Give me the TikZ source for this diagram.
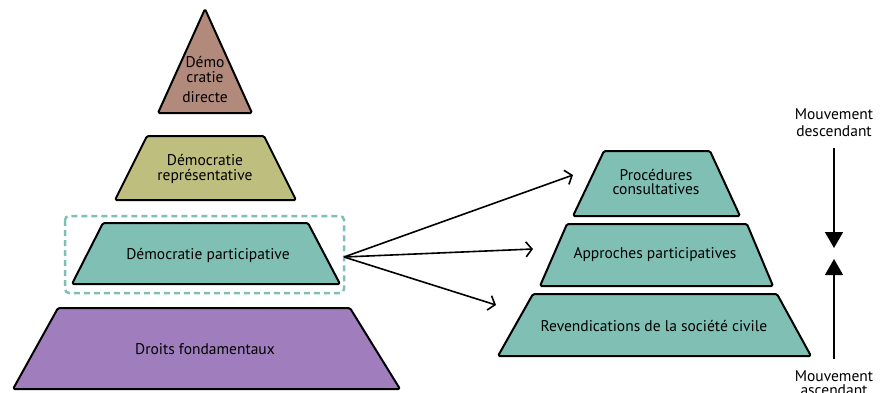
\documentclass[tikz,border=0pt]{standalone}
\usepackage{fontspec}
\setmainfont{PT Sans}
\usetikzlibrary{arrows.meta}

\definecolor{taupe}{HTML}{B28A7C}
\definecolor{olive}{HTML}{BEBE7E}
\definecolor{teal}{HTML}{80C0B4}
\definecolor{lilac}{HTML}{A07EBE}

\begin{document}
\begin{tikzpicture}[x=1pt, y=-1pt,
    every node/.style={font=\fontsize{15.5}{14.5}\selectfont, align=center, inner sep=0pt},
    layer/.style={draw=black, line width=2pt, rounded corners=1.5pt, line join=round},
    link/.style={line width=1.6pt, -{Straight Barb[length=6pt,width=15pt]}},
    move/.style={line width=1.6pt, -{Triangle[length=16pt,width=18pt]}}]
    \clip (0,0) rectangle (889,392);

    % Left pyramid, top to bottom
    \draw[layer, fill=taupe] (158,113) -- (205,9) -- (252,113) -- cycle;
    \draw[layer, fill=olive] (115,200) -- (147,136) -- (264,136) -- (296,200) -- cycle;
    \draw[layer, fill=teal] (72,284) -- (103,223) -- (308,223) -- (340,284) -- cycle;
    \draw[layer, fill=lilac] (13,389) -- (58,308) -- (350,308) -- (400,389) -- cycle;
    \node (direct) at (205,80) {Démo\\cratie\\[6pt]directe};
    \node (repr) at (205,169) {Démocratie\\représentative};
    \node (part) at (208,255) {Démocratie participative};
    \node (droits) at (205,349) {Droits fondamentaux};

    % Highlight around the participative layer
    \draw[teal, line width=2.5pt, dash pattern=on 6pt off 4pt, rounded corners=4pt]
        (65,216) rectangle (344,293);

    % Right pyramid
    \draw[layer, fill=teal] (573,216) -- (604,151) -- (710,151) -- (740,216) -- cycle;
    \draw[layer, fill=teal] (540,286) -- (567,224) -- (747,224) -- (773,286) -- cycle;
    \draw[layer, fill=teal] (498,356) -- (533,294) -- (777,294) -- (811,356) -- cycle;
    \node (consult) at (656,182) {Procédures\\consultatives};
    \node (approches) at (655,255) {Approches participatives};
    \node (revend) at (654,326) {Revendications de la société civile};

    % Arrows fanning out from the participative layer
    \coordinate (hub) at (344,257);
    \coordinate (toConsult) at (573,175);
    \coordinate (toApproches) at (533,249);
    \coordinate (toRevend) at (496,305);
    \draw[link] (hub) -- (toConsult);
    \draw[link] (hub) -- (toApproches);
    \draw[link] (hub) -- (toRevend);

    % Top-down and bottom-up movements
    \node[font=\fontsize{15.5}{17}\selectfont] (desc) at (834,123) {Mouvement\\descendant};
    \node (asc) at (834,383) {Mouvement\\ascendant};
    \coordinate (descStart) at (834,148);
    \coordinate (descEnd) at (834,248);
    \coordinate (ascStart) at (834,359);
    \coordinate (ascEnd) at (834,259);
    \draw[move] (descStart) -- (descEnd);
    \draw[move] (ascStart) -- (ascEnd);
\end{tikzpicture}
\end{document}
